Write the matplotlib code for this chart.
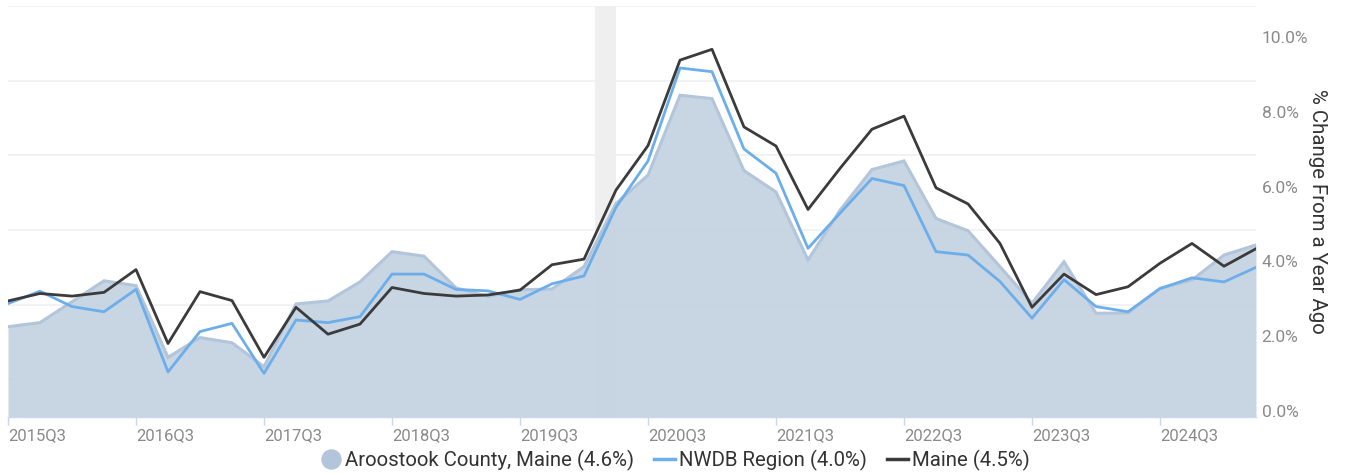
import matplotlib
matplotlib.use("Agg")
import matplotlib.pyplot as plt
from matplotlib.lines import Line2D
from matplotlib.transforms import ScaledTranslation

quarters = ["2015Q3", "2015Q4", "2016Q1", "2016Q2", "2016Q3", "2016Q4", "2017Q1", "2017Q2",
            "2017Q3", "2017Q4", "2018Q1", "2018Q2", "2018Q3", "2018Q4", "2019Q1", "2019Q2",
            "2019Q3", "2019Q4", "2020Q1", "2020Q2", "2020Q3", "2020Q4", "2021Q1", "2021Q2",
            "2021Q3", "2021Q4", "2022Q1", "2022Q2", "2022Q3", "2022Q4", "2023Q1", "2023Q2",
            "2023Q3", "2023Q4", "2024Q1", "2024Q2", "2024Q3", "2024Q4", "2025Q1", "2025Q2"]

aroostook = [2.41, 2.52, 3.08, 3.64, 3.51, 1.59, 2.12, 1.98, 1.34, 3.02, 3.10, 3.61, 4.42, 4.30,
             3.45, 3.22, 3.40, 3.42, 4.02, 5.71, 6.47, 8.61, 8.52, 6.59, 6.02, 4.20, 5.53, 6.62,
             6.85, 5.31, 4.98, 4.02, 3.04, 4.15, 2.77, 2.78, 3.44, 3.66, 4.33, 4.6]
nwdb = [3.03, 3.36, 2.95, 2.81, 3.41, 1.20, 2.28, 2.50, 1.16, 2.59, 2.52, 2.68, 3.82, 3.82,
        3.41, 3.37, 3.14, 3.56, 3.77, 5.61, 6.85, 9.34, 9.24, 7.17, 6.52, 4.51, 5.45, 6.38,
        6.19, 4.42, 4.33, 3.62, 2.64, 3.67, 2.95, 2.81, 3.43, 3.72, 3.61, 4.0]
maine = [3.10, 3.30, 3.23, 3.33, 3.94, 1.96, 3.35, 3.11, 1.59, 2.93, 2.21, 2.48, 3.46, 3.30,
         3.23, 3.26, 3.39, 4.07, 4.22, 6.07, 7.26, 9.55, 9.84, 7.76, 7.25, 5.55, 6.65, 7.70,
         8.05, 6.13, 5.70, 4.64, 2.93, 3.82, 3.27, 3.48, 4.11, 4.64, 4.03, 4.5]

xtick_labels = ["2015Q3", "2016Q3", "2017Q3", "2018Q3", "2019Q3",
                "2020Q3", "2021Q3", "2022Q3", "2023Q3", "2024Q3"]
ytick_values = [0, 2, 4, 6, 8, 10]
ytick_labels = ["0.0%", "2.0%", "4.0%", "6.0%", "8.0%", "10.0%"]
recession = (18.33, 19.0)  # Feb 2020 - Apr 2020 in quarter index units

series_names = ["Aroostook County, Maine (4.6%)", "NWDB Region (4.0%)", "Maine (4.5%)"]

plt.rcParams["font.family"] = ["Roboto", "DejaVu Sans"]

fig = plt.figure(figsize=(13.49, 4.75), dpi=100)
ax = fig.add_axes([8 / 1349, (475 - 416.7) / 475, (1256 - 8) / 1349, (416.7 - 6) / 475])

x = list(range(len(quarters)))

ax.axvspan(recession[0], recession[1], color="#efefef", zorder=0, lw=0)
ax.fill_between(x, aroostook, 0, color="#c5d3e2", alpha=0.95, lw=0, zorder=2)
ax.plot(x, aroostook, color="#b3c5db", lw=2.2, zorder=2.5, solid_joinstyle="miter")
ax.plot(x, nwdb, color="#6caeea", lw=2.0, zorder=3)
ax.plot(x, maine, color="#3b3b3b", lw=2.0, zorder=4)

ax.set_xlim(0, len(quarters) - 1)
ax.set_ylim(0, 11)

# grid
ax.set_yticks(list(range(0, 12)), minor=True)
ax.yaxis.grid(True, which="minor", color="#f0f0f0", lw=1.2, zorder=1)
ax.set_axisbelow(True)

ax.yaxis.tick_right()
ax.set_yticks(ytick_values)
ax.set_yticklabels(ytick_labels, color="#8a8a8a", fontsize=12.5)
ax.tick_params(axis="y", which="both", length=0, pad=4)
for lab in ax.get_yticklabels():
    lab.set_transform(lab.get_transform() + ScaledTranslation(0, 6 / 100, fig.dpi_scale_trans))
    lab.set_horizontalalignment("left")

ax.set_ylabel("% Change From a Year Ago", rotation=270, color="#333333", fontsize=14.7, labelpad=14)
ax.yaxis.set_label_position("right")

xt = [quarters.index(q) for q in xtick_labels]
ax.set_xticks(xt)
ax.set_xticklabels(xtick_labels, color="#8a8a8a", fontsize=12, ha="left")
ax.tick_params(axis="x", length=6, color="#ccd6eb", width=1, pad=2)

for s in ["top", "left", "right"]:
    ax.spines[s].set_visible(False)
ax.spines["bottom"].set_color("#ccd6eb")
ax.spines["bottom"].set_linewidth(1)

handles = [
    Line2D([], [], marker="o", linestyle="none", markersize=13.7, markerfacecolor="#b3c5db",
           markeredgecolor="#b3c5db"),
    Line2D([], [], color="#6caeea", lw=2.5),
    Line2D([], [], color="#3b3b3b", lw=2.5),
]
fig.legend(handles, series_names, loc="center", bbox_to_anchor=(675 / 1349, 1 - 460 / 475),
           ncol=3, frameon=False, fontsize=14.7, handlelength=1.0, handletextpad=0.2,
           columnspacing=1.0, labelcolor="#333333")

fig.savefig("out.png", dpi=100)
